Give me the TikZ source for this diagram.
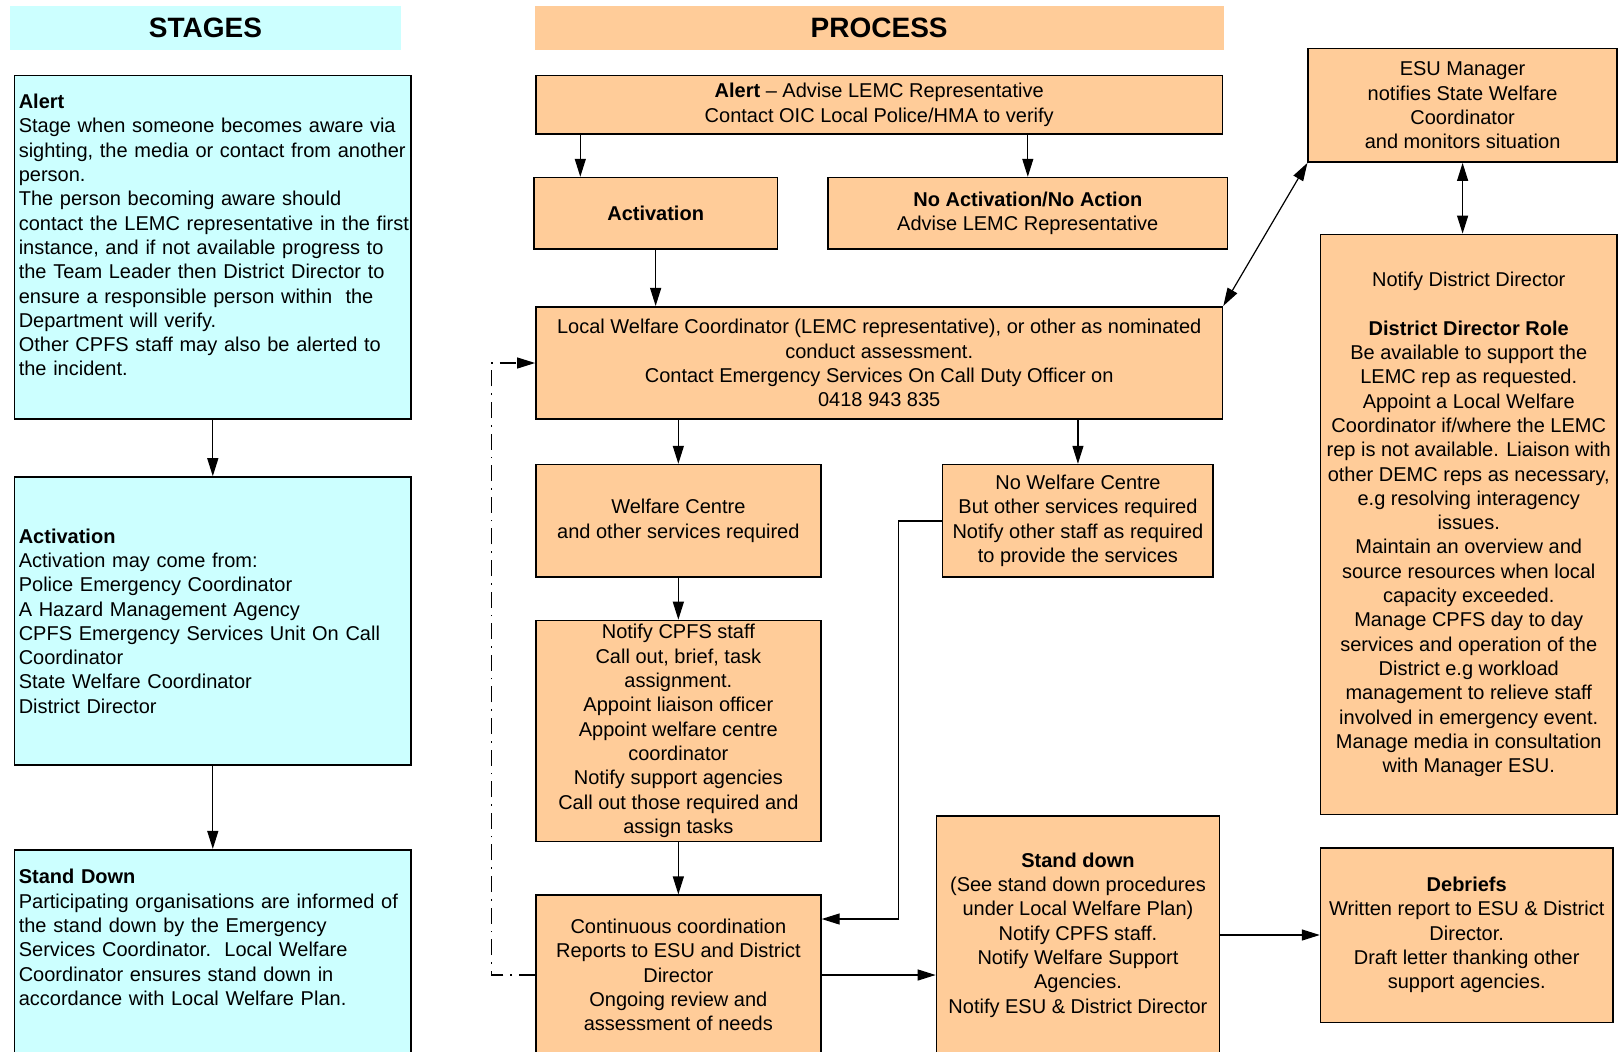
\documentclass[tikz,border=0pt]{standalone}
\usepackage{fontspec}
\setmainfont{Liberation Sans}
\usetikzlibrary{arrows.meta}
\definecolor{stagecyan}{HTML}{CCFFFF}
\definecolor{procorange}{HTML}{FFCC99}

\begin{document}
\begin{tikzpicture}[x=0.5pt, y=-0.5pt,
  txt/.style={font=\fontsize{10}{12.15}\selectfont},
  header/.style={fill=#1, minimum height=21.7pt, inner sep=0pt, font=\fontsize{14}{16}\selectfont\bfseries},
  stagebox/.style={draw, line width=0.8pt, fill=stagecyan, txt, text width=197pt, align=left, inner xsep=0.6pt, inner ysep=1pt, minimum width=198.3pt, execute at begin node=\leftskip1.5pt\relax},
  procbox/.style={draw, line width=0.8pt, fill=procorange, txt, align=center, inner xsep=2pt, inner ysep=1pt},
  arr/.style={line width=0.6pt, -{Triangle[length=9pt,width=5.5pt]}},
  dblarr/.style={line width=0.6pt, {Triangle[length=9pt,width=5.5pt]}-{Triangle[length=9pt,width=5.5pt]}},
  dashdotarr/.style={arr, dash pattern=on 8pt off 3.5pt on 0.8pt off 3.5pt}]
  \useasboundingbox (0,0) rectangle (1619,1051);

  % headers
  \node[header=stagecyan, minimum width=195.2pt] (stagesH) at (205.5,27.9) {STAGES};
  \node[header=procorange, minimum width=344.4pt] (processH) at (879.2,27.9) {PROCESS};

  % stages
  \node[stagebox, minimum height=171.8pt] (alertS) at (212.8,247.2) {\textbf{Alert}\\Stage when someone becomes aware via\\sighting, the media or contact from another\\person.\\The person becoming aware should\\contact the LEMC representative in the first\\instance, and if not available progress to\\the Team Leader then District Director to\\ensure a responsible person within\ \ the\\Department will verify.\\Other CPFS staff may also be alerted to\\the incident.\\\mbox{}};
  \node[stagebox, minimum height=144pt] (actS) at (212.8,621) {\textbf{Activation}\\Activation may come from:\\Police Emergency Coordinator\\A Hazard Management Agency\\CPFS Emergency Services Unit On Call\\Coordinator\\State Welfare Coordinator\\District Director};
  \node[stagebox, minimum height=112pt] (downS) at (212.8,961.7) {\textbf{Stand Down}\\Participating organisations are informed of\\the stand down by the Emergency\\Services Coordinator.\ \ Local Welfare\\Coordinator ensures stand down in\\accordance with Local Welfare Plan.\\\mbox{}\\\mbox{}};

  % process
  \node[procbox, minimum width=343.3pt, minimum height=29.4pt] (alertP) at (879.2,104.8) {\textbf{Alert} – Advise LEMC Representative\\Contact OIC Local Police/HMA to verify};
  \node[procbox, minimum width=121.9pt, minimum height=35.6pt] (actP) at (655.65,213.2) {\textbf{Activation}};
  \node[procbox, minimum width=199.8pt, minimum height=35.6pt] (noactP) at (1027.8,213.2) {\textbf{No Activation/No Action}\\Advise LEMC Representative};
  \node[procbox, minimum width=343.3pt, minimum height=56.25pt] (lwc) at (879.2,363) {Local Welfare Coordinator (LEMC representative), or other as nominated\\conduct assessment.\\Contact Emergency Services On Call Duty Officer on\\0418 943 835};
  \node[procbox, minimum width=142.5pt, minimum height=56.3pt] (wcP) at (678.35,520.9) {Welfare Centre\\and other services required};
  \node[procbox, minimum width=135.3pt, minimum height=56.3pt] (nowcP) at (1077.95,520.9) {No Welfare Centre\\But other services required\\Notify other staff as required\\to provide the services};
  \node[procbox, minimum width=142.5pt, minimum height=110.5pt] (notifyP) at (678.35,731) {Notify CPFS staff\\Call out, brief, task\\assignment.\\Appoint liaison officer\\Appoint welfare centre\\coordinator\\Notify support agencies\\Call out those required and\\assign tasks};
  \node[procbox, minimum width=142.5pt, minimum height=79.8pt] (contP) at (678.35,975) {Continuous coordination\\Reports to ESU and District\\Director\\Ongoing review and\\assessment of needs};
  \node[procbox, minimum width=141.5pt, minimum height=119.3pt] (sdP) at (1077.95,935) {\textbf{Stand down}\\(See stand down procedures\\under Local Welfare Plan)\\Notify CPFS staff.\\Notify Welfare Support\\Agencies.\\Notify ESU \& District Director};
  \node[procbox, minimum width=146.1pt, minimum height=87.3pt] (debP) at (1466.7,935) {\textbf{Debriefs}\\Written report to ESU \& District\\Director.\\Draft letter thanking other\\support agencies.};
  \node[procbox, minimum width=154.4pt, minimum height=56.8pt] (esuP) at (1462.6,105.3) {ESU Manager\\notifies State Welfare\\Coordinator\\and monitors situation};
  \node[procbox, minimum width=148.2pt, minimum height=290.1pt] (ddP) at (1468.75,524.5) {Notify District Director\\[12.15pt]\textbf{District Director Role}\\Be available to support the\\LEMC rep as requested.\\Appoint a Local Welfare\\Coordinator if/where the LEMC\\rep is not available. Liaison with\\other DEMC reps as necessary,\\e.g resolving interagency\\issues.\\Maintain an overview and\\source resources when local\\capacity exceeded.\\Manage CPFS day to day\\services and operation of the\\District e.g workload\\management to relieve staff\\involved in emergency event.\\Manage media in consultation\\with Manager ESU.};

  % connectors
  \draw[arr] (alertS) -- (actS);
  \draw[arr] (actS) -- (downS);
  \draw[arr] (alertP.south -| 580.3,0) -- (actP.north -| 580.3,0);
  \draw[arr] (alertP.south -| noactP.north) -- (noactP.north);
  \draw[arr] (actP.south) -- (actP.south |- lwc.north);
  \draw[arr] (lwc.south -| wcP.north) -- (wcP.north);
  \draw[arr] (lwc.south -| nowcP.north) -- (nowcP.north);
  \draw[arr] (wcP) -- (notifyP);
  \draw[arr] (notifyP) -- (contP);
  \draw[arr] (nowcP.west) -- ++(-43.4,0) |- ([yshift=28pt]contP.east);
  \draw[arr] (contP.east) -- (contP.east -| sdP.west);
  \draw[arr] (sdP.east) -- (debP.west);
  \draw[dblarr] (esuP.south) -- (esuP.south |- ddP.north);
  \draw[dblarr] (lwc.north east) -- (esuP.south west);
  \draw[dashdotarr] (contP.west) -- ++(-43.4,0) |- (lwc.west);
\end{tikzpicture}
\end{document}
